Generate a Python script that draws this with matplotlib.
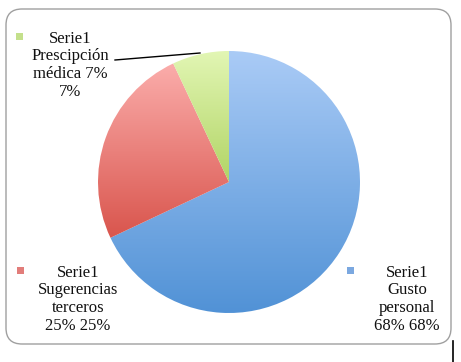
import numpy as np
import matplotlib.pyplot as plt
from matplotlib.patches import FancyBboxPatch
from matplotlib.colors import LinearSegmentedColormap

# data
values = [68, 25, 7]
series_name = "Serie1"
top_colors = ["#aacbf6", "#fbadab", "#e2f6b4"]
bottom_colors = ["#5192d6", "#d9554d", "#b1d465"]
marker_colors = ["#7ba8e0", "#e27d7a", "#c4e08c"]

W, H = 461, 362
fig = plt.figure(figsize=(W / 100, H / 100), dpi=100)
ax = fig.add_axes([0, 0, 1, 1])

def py(y):
    # pixel row -> data y
    return H - y

# pie
cx, cy, r = 229, py(182), 131
wedges, _ = ax.pie(values, center=(cx, cy), radius=r, startangle=90, counterclock=False,
                   colors=top_colors, wedgeprops=dict(lw=0), frame=True)
ax.set_xlim(0, W)
ax.set_ylim(0, H)
ax.set_aspect("equal")
ax.axis("off")

# outer rounded frame
frame = FancyBboxPatch((6, py(344)), 445, 335, boxstyle="round,pad=0,rounding_size=16",
                       fc="white", ec="#a0a0a0", lw=1.0, zorder=0)
ax.add_patch(frame)
ax.plot([453, 453], [py(341), py(362)], color="black", lw=1.2, zorder=1)

renderer = fig.canvas.get_renderer()
inv = ax.transData.inverted()
for w, c0, c1 in zip(wedges, top_colors, bottom_colors):
    ext = w.get_window_extent(renderer=renderer)
    (x0, y0), (x1, y1) = inv.transform([[ext.x0, ext.y0], [ext.x1, ext.y1]])
    cmap = LinearSegmentedColormap.from_list("g", [c1, c0])
    grad = np.linspace(0, 1, 256).reshape(-1, 1)
    im = ax.imshow(grad, cmap=cmap, extent=(x0, x1, y0, y1), origin="lower",
                   aspect="auto", zorder=2)
    im.set_clip_path(w)
    w.set_alpha(0)

ax.set_xlim(0, W)
ax.set_ylim(0, H)

# labels
font = dict(family="Liberation Serif", fontsize=12, ha="center", va="center", color="#111111")
label_pos = [(407, 273, 350), (78, 273, 20), (70, 39, 19)]
lines_all = [
    [series_name, "Gusto", "personal", f"{values[0]}% {values[0]}%"],
    [series_name, "Sugerencias", "terceros", f"{values[1]}% {values[1]}%"],
    [series_name, "Prescipción", "médica 7%", f"{values[2]}%"],
]
for (tx, ty, mx), lines, mc in zip(label_pos, lines_all, marker_colors):
    for i, line in enumerate(lines):
        ax.text(tx, py(ty + i * 17.5), line, zorder=5, **font)
    ax.add_patch(plt.Rectangle((mx - 3.5, py(ty + 1)), 7, 7, fc=mc, ec="none", zorder=5))

# leader line for small slice
ax.plot([115, 200], [py(60), py(53)], color="black", lw=1.0, zorder=5)

fig.savefig("out.png", dpi=100)
